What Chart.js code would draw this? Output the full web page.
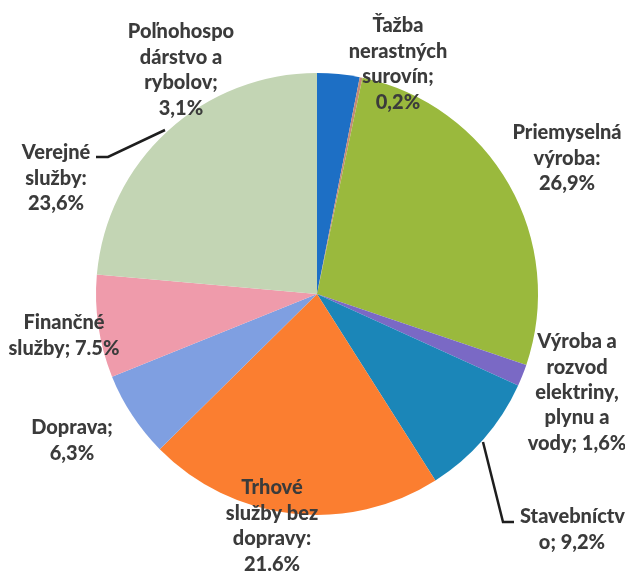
<!DOCTYPE html>
<html>
<head>
<meta charset="utf-8">
<script src="https://cdn.jsdelivr.net/npm/chart.js@4"></script>
<style>
  html, body { margin: 0; padding: 0; background: #fff; }
  #wrap { width: 625px; height: 573px; }
</style>
</head>
<body>
<div id="wrap"><canvas id="myChart" width="625" height="573"></canvas></div>
<script>
// data, order = clockwise from 12 o'clock
const categories = ['Poľnohospodárstvo a rybolov', 'Ťažba nerastných surovín', 'Priemyselná výroba',
  'Výroba a rozvod elektriny, plynu a vody', 'Stavebníctvo', 'Trhové služby bez dopravy',
  'Doprava', 'Finančné služby', 'Verejné služby'];
const shares = [3.1, 0.2, 26.9, 1.6, 9.2, 21.6, 6.3, 7.5, 23.6];
const sliceColors = ['#1d6fc5', '#c48a76', '#9ab93d', '#7a69c5', '#1b86b8', '#fb7e30', '#7f9fe1', '#ef9bab', '#c3d5b4'];

// how the data labels are wrapped in the picture ({v} = value)
const labelLines = [
  ['Poľnohospo', 'dárstvo a', 'rybolov;', '{v}'],
  ['Ťažba', 'nerastných', 'surovín;', '{v}'],
  ['Priemyselná', 'výroba:', '{v}'],
  ['Výroba a', 'rozvod', 'elektriny,', 'plynu a', 'vody; {v}'],
  ['Stavebníctv', 'o; {v}'],
  ['Trhové', 'služby bez', 'dopravy:', '{v}'],
  ['Doprava;', '{v}'],
  ['Finančné', 'služby; {v}'],
  ['Verejné', 'služby:', '{v}']
];

function fmt(v, i) {
  // picture writes most values with a comma, "7.5" and "21.6" with a dot
  let s = v.toFixed(1);
  if (i != 5 && i != 7) s = s.replace('.', ',');
  return s + '%';
}

// where each label block sits (x center, y of first line)
const labelPos = [
  {x: 181, y: 32}, {x: 398, y: 26}, {x: 567, y: 133}, {x: 577, y: 342, lh: 25.3},
  {x: 572, y: 517, firstLeft: 520}, {x: 272, y: 488}, {x: 72, y: 428}, {x: 64, y: 323}, {x: 56, y: 153}
];

const labelPlugin = {
  id: 'sliceLabels',
  afterDraw(chart) {
    const c = chart.ctx;
    c.save();
    // leader lines
    c.strokeStyle = '#1e1e1e';
    c.lineWidth = 2.5;
    c.beginPath();
    c.moveTo(165, 130); c.lineTo(108, 157); c.lineTo(96, 157);
    c.moveTo(483, 442); c.lineTo(503, 522); c.lineTo(514, 522);
    c.stroke();

    c.font = '900 20px Lato, "Open Sans", sans-serif';
    c.fillStyle = '#3b3b3b';
    c.textBaseline = 'middle';
    labelLines.forEach(function(lines, i) {
      const p = labelPos[i];
      const lh = p.lh || 25.5;
      lines.forEach(function(t, k) {
        const txt = t.replace('{v}', fmt(shares[i], i));
        if (k == 0 && p.firstLeft) {
          c.textAlign = 'left';
          c.fillText(txt, p.firstLeft, p.y);
        } else {
          c.textAlign = 'center';
          c.fillText(txt, p.x, p.y + k * lh);
        }
      });
    });
    c.restore();
  }
};

var ctx = document.getElementById('myChart');
var myChart = new Chart(ctx, {
  type: 'pie',
  data: {
    labels: categories,
    datasets: [{
      data: shares,
      backgroundColor: sliceColors,
      borderWidth: 0
    }]
  },
  options: {
    responsive: false,
    animation: false,
    layout: { padding: { left: 96, right: 87, top: 73, bottom: 58 } },
    plugins: {
      legend: { display: false },
      tooltip: { enabled: false }
    }
  },
  plugins: [labelPlugin]
});
</script>
</body>
</html>
